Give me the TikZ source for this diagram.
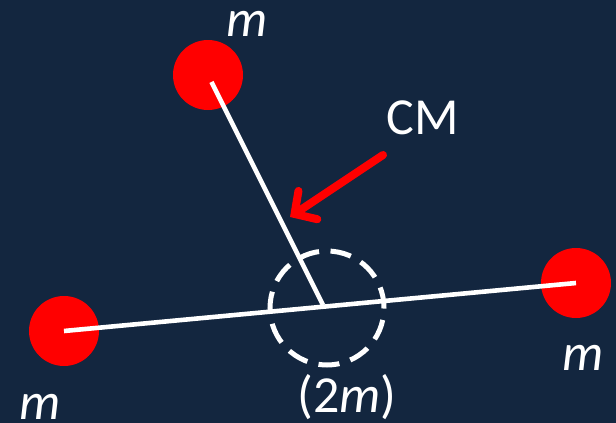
\documentclass[tikz,border=0pt]{standalone}
\usepackage{fontspec}
\setmainfont{Carlito}
\usepackage{xcolor}
\usetikzlibrary{arrows.meta,calc,positioning}
\definecolor{navybg}{HTML}{13263F}
\definecolor{massred}{HTML}{FF0000}

\begin{document}
\begin{tikzpicture}[x=1pt,y=-1pt,font=\fontsize{52}{56}\selectfont,
  mass/.style={circle,fill=massred,minimum size=70pt,inner sep=0pt},
  lbl/.style={text=white,inner sep=0pt},
  rod/.style={white,line width=4.6pt}]
\fill[navybg] (0,0) rectangle (616,423);
\useasboundingbox (0,0) rectangle (616,423);
% masses
\node[mass] (mtop) at (208,75) {};
\node[mass] (mleft) at (64,331) {};
\node[mass] (mright) at (576,283) {};
\coordinate (cm) at (327,308);
\coordinate (joint) at (323,305);
% rods
\draw[rod] ($(mtop.center)!0.03!(joint)$) -- (joint);
\draw[rod] (mleft.center) -- (mright.center);
\node[circle,draw=white,line width=5pt,dash pattern=on 21pt off 11.5pt,minimum size=114pt,inner sep=0pt] (cmring) at (cm) {};
% labels
\node[lbl] (ltop) at (247,24) {\textit{m}};
\node[lbl] (lleft) at (40,407) {\textit{m}};
\node[lbl] (lright) at (583,358) {\textit{m}};
\node[lbl] (lcm) at (423,118) {CM};
\node[lbl] (ltot) at (347,397) {(2\textit{m})};
\coordinate (tail) at (383,155);
\coordinate (tip) at (290,217);
\draw[massred,line width=8pt,line cap=round,-{Straight Barb[length=16pt,width=34pt,line cap=round]}] (tail) -- (tip);
\end{tikzpicture}
\end{document}
